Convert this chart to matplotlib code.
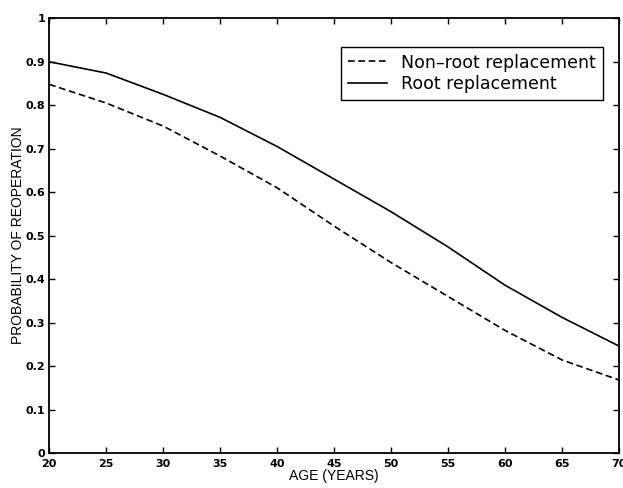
"""Probability of reoperation vs age, root vs non-root replacement."""

import matplotlib

matplotlib.use("Agg")
import matplotlib.pyplot as plt

plt.rcParams["font.family"] = ["Liberation Sans", "DejaVu Sans"]

age = [20, 25, 30, 35, 40, 45, 50, 55, 60, 65, 70]
non_root = [0.848, 0.805, 0.752, 0.683, 0.61, 0.522, 0.438, 0.36, 0.282, 0.214, 0.168]
root = [0.90, 0.874, 0.825, 0.772, 0.705, 0.63, 0.555, 0.474, 0.386, 0.312, 0.246]

x_ticks = [20, 25, 30, 35, 40, 45, 50, 55, 60, 65, 70]
y_ticks = [0, 0.1, 0.2, 0.3, 0.4, 0.5, 0.6, 0.7, 0.8, 0.9, 1]
y_labels = ["0", "0.1", "0.2", "0.3", "0.4", "0.5", "0.6", "0.7", "0.8", "0.9", "1"]

fig = plt.figure(figsize=(6.23, 4.88), dpi=100)
ax = fig.add_axes([0.0791, 0.0717, 0.9145, 0.8908])

ax.plot(age, non_root, color="black", ls="--", lw=1.2, dashes=(4, 2.2),
        label="Non\u2013root replacement")
ax.plot(age, root, color="black", ls="-", lw=1.2, label="Root replacement")

ax.set_xlim(20, 70)
ax.set_ylim(0, 1)
ax.set_xticks(x_ticks)
ax.set_yticks(y_ticks)
ax.set_yticklabels(y_labels)
ax.tick_params(direction="in", top=True, right=True, length=4, width=1, pad=3)
ax.tick_params(axis="x", pad=4)
for lbl in ax.get_xticklabels() + ax.get_yticklabels():
    lbl.set_family("DejaVu Sans")
    lbl.set_fontweight("bold")
    lbl.set_fontsize(8)
for sp in ax.spines.values():
    sp.set_linewidth(1.3)

ax.set_xlabel("AGE (YEARS)", fontsize=10, labelpad=0)
ax.set_ylabel("PROBABILITY OF REOPERATION", fontsize=10, labelpad=0)

leg = ax.legend(loc="upper right", bbox_to_anchor=(0.972, 0.935),
                prop={"family": "DejaVu Sans", "size": 12.5},
                frameon=True, fancybox=False, handlelength=2.3, borderpad=0.4,
                labelspacing=0.2, handletextpad=0.8, borderaxespad=0)
leg.get_frame().set_edgecolor("black")
leg.get_frame().set_linewidth(1.0)
leg.get_frame().set_alpha(1)

fig.savefig("out.png", dpi=100)
